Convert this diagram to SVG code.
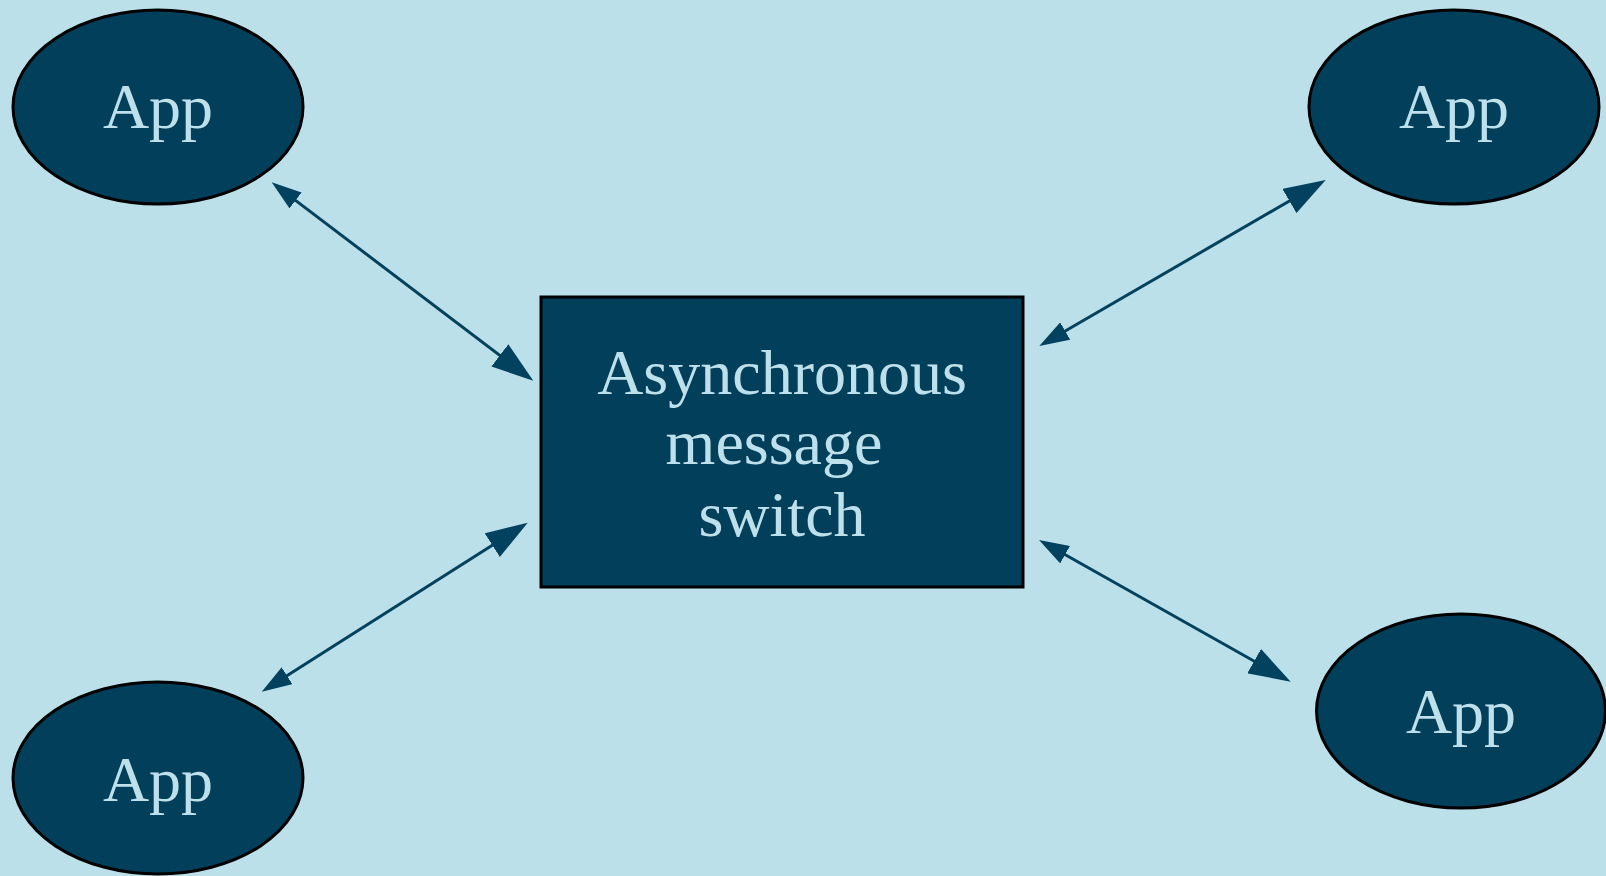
<svg xmlns="http://www.w3.org/2000/svg" width="1606" height="876" viewBox="0 0 1606 876">
<defs>
<style>
.node{fill:#023f5a;stroke:#000;stroke-width:3}
.lbl{font-family:"Liberation Serif","Times New Roman",serif;font-size:64px;fill:#bde0ea;text-anchor:middle}
.edge{stroke:#02425e;stroke-width:3;fill:none}
</style>
<marker id="sm" markerUnits="userSpaceOnUse" markerWidth="30" markerHeight="20" viewBox="0 0 30 20" refX="10" refY="10" orient="auto-start-reverse">
<path d="M0,0 L30,10 L0,20 z" fill="#02425e"/>
</marker>
<marker id="lg" markerUnits="userSpaceOnUse" markerWidth="42" markerHeight="28" viewBox="0 0 42 28" refX="14" refY="14" orient="auto-start-reverse">
<path d="M0,0 L42,14 L0,28 z" fill="#02425e"/>
</marker>
</defs>
<rect width="1606" height="876" fill="#bce0e9"/>
<g id="connectors">
<line class="edge" x1="287.6" y1="194.4" x2="511.0" y2="363.8" marker-start="url(#sm)" marker-end="url(#lg)"/>
<line class="edge" x1="1301.5" y1="194.0" x2="1056.6" y2="336.0" marker-start="url(#lg)" marker-end="url(#sm)"/>
<line class="edge" x1="504.1" y1="537.7" x2="278.6" y2="681.0" marker-start="url(#lg)" marker-end="url(#sm)"/>
<line class="edge" x1="1056.4" y1="549.8" x2="1266.3" y2="668.0" marker-start="url(#sm)" marker-end="url(#lg)"/>
</g>
<g id="switch">
<rect class="node" x="541" y="297" width="482" height="290"/>
<text class="lbl" x="782" y="394">Asynchronous</text>
<text class="lbl" x="774" y="464">message</text>
<text class="lbl" x="782" y="536">switch</text>
</g>
<g id="app-tl">
<ellipse class="node" cx="158" cy="107" rx="145" ry="97"/>
<text class="lbl" x="158" y="128">App</text>
</g>
<g id="app-tr">
<ellipse class="node" cx="1454" cy="107" rx="145" ry="97"/>
<text class="lbl" x="1454" y="128">App</text>
</g>
<g id="app-bl">
<ellipse class="node" cx="158" cy="778" rx="145" ry="96"/>
<text class="lbl" x="158" y="801">App</text>
</g>
<g id="app-br">
<ellipse class="node" cx="1461" cy="711" rx="144.5" ry="97"/>
<text class="lbl" x="1461" y="733">App</text>
</g>
</svg>
